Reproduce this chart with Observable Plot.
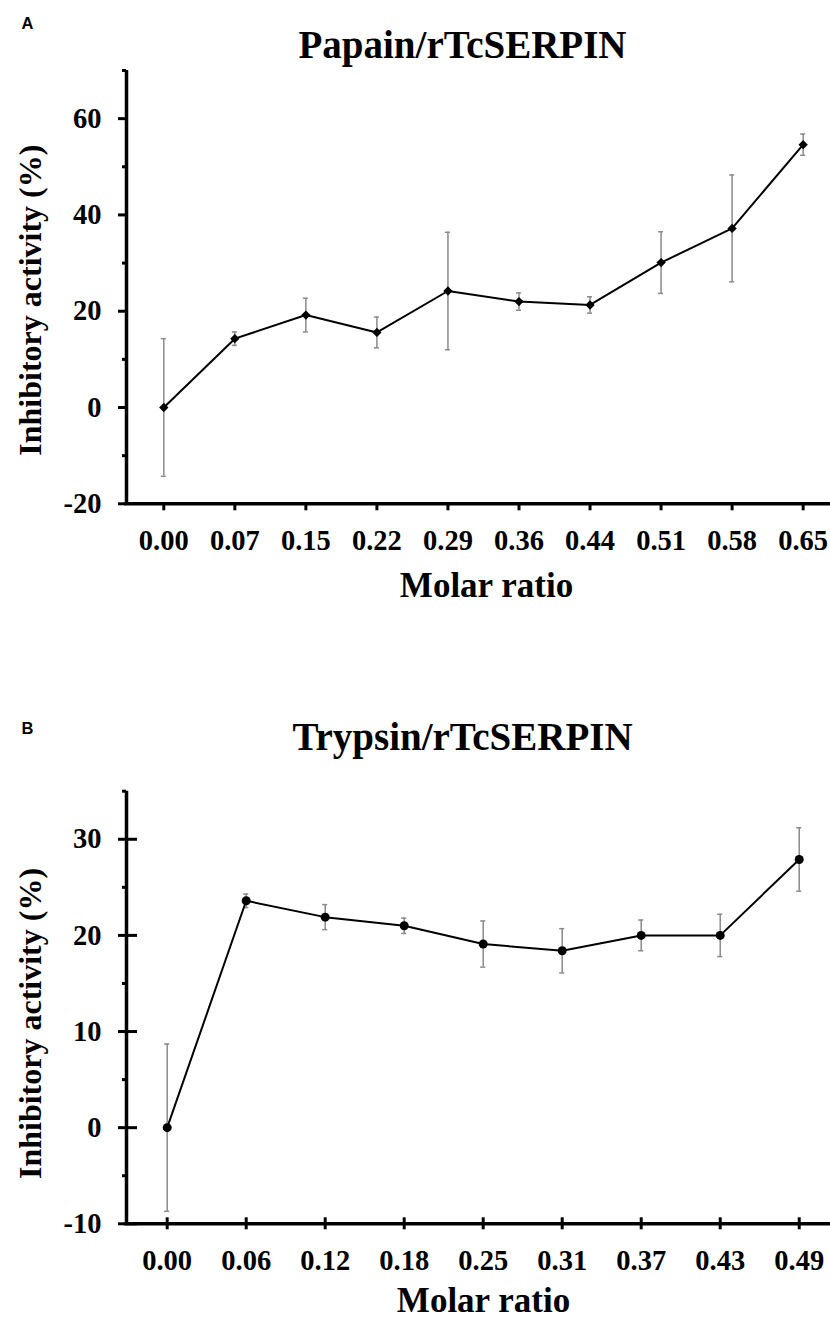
<!DOCTYPE html>
<html>
<head>
<meta charset="utf-8">
<script src="https://cdn.jsdelivr.net/npm/d3@7"></script>
<script src="https://cdn.jsdelivr.net/npm/@observablehq/plot@0.6"></script>
<style>
  body { margin: 0; background: #fff; }
  #chart svg { display: block; }
</style>
</head>
<body>
<div id="chart"></div>
<script>
// ---- Data ----
const papainRatios   = ["0.00","0.07","0.15","0.22","0.29","0.36","0.44","0.51","0.58","0.65"];
const papainActivity = [0, 14.3, 19.2, 15.6, 24.2, 22.0, 21.3, 30.1, 37.2, 54.6];
const papainError    = [14.3, 1.4, 3.5, 3.2, 12.2, 1.8, 1.7, 6.4, 11.1, 2.2];

const trypsinRatios   = ["0.00","0.06","0.12","0.18","0.25","0.31","0.37","0.43","0.49"];
const trypsinActivity = [0, 23.6, 21.9, 21.0, 19.1, 18.4, 20.0, 20.0, 27.9];
const trypsinError    = [8.7, 0.7, 1.3, 0.8, 2.4, 2.3, 1.6, 2.2, 3.3];

const papainYTicks  = [-20, 0, 20, 40, 60];
const papainYMinor  = [-10, 10, 30, 50, 70];
const trypsinYTicks = [-10, 0, 10, 20, 30];
const trypsinYMinor = [-5, 5, 15, 25, 35];

const titles  = ["Papain/rTcSERPIN", "Trypsin/rTcSERPIN"];
const letters = ["A", "B"];
const xLabel = "Molar ratio";
const yLabel = "Inhibitory activity (%)";

// ---- Drawing ----
const serif = "'Liberation Serif', 'Times New Roman', serif";
const sans = "'Liberation Sans', Arial, sans-serif";
const grey = "#8a8a8a";

function panel(o) {
  const data = o.labels.map((lab, i) => ({i, lab, v: o.values[i], e: o.errors[i]}));
  const idx = d3.range(o.labels.length);
  return Plot.plot({
    width: 830,
    height: o.height,
    marginLeft: 126,
    marginRight: 0,
    marginTop: o.mt,
    marginBottom: o.mb,
    style: {fontFamily: serif, fontWeight: "bold", background: "white", overflow: "visible", color: "black"},
    x: {domain: o.xDomain},
    y: {domain: o.yDomain},
    marks: [
      Plot.ruleX(data, {x: "i", y1: d => d.v - d.e, y2: d => d.v + d.e, stroke: grey, strokeWidth: 1.5}),
      Plot.ruleY(data, {y: d => d.v + d.e, x1: d => d.i - o.cap, x2: d => d.i + o.cap, stroke: grey, strokeWidth: 1.5}),
      Plot.ruleY(data, {y: d => d.v - d.e, x1: d => d.i - o.cap, x2: d => d.i + o.cap, stroke: grey, strokeWidth: 1.5}),
      Plot.line(data, {x: "i", y: "v", stroke: "black", strokeWidth: 2}),
      Plot.dot(data, {x: "i", y: "v", symbol: o.symbol, r: o.r, fill: "black"}),
      Plot.ruleX([o.xDomain[0]], {stroke: "black", strokeWidth: 3.5}),
      Plot.ruleY([o.yDomain[0]], {stroke: "black", strokeWidth: 3.5, strokeLinecap: "square"}),
      Plot.axisY({ticks: o.yTicks, tickSize: o.yTickSize, dx: o.yTickDx, tickPadding: o.yPad,
        tickFormat: d => String(d), fontSize: 28.5, fontWeight: "bold", strokeWidth: 3, label: null}),
      Plot.axisY({ticks: o.yMinor, tickSize: 4, tickFormat: () => "", strokeWidth: 3, label: null}),
      Plot.axisX({ticks: idx, tickFormat: i => o.labels[i], tickSize: o.xTickSize, dy: o.xTickDy,
        tickPadding: o.xPad, fontSize: 28.5, fontWeight: "bold", strokeWidth: 3, label: null}),
      Plot.text([o.title], {frameAnchor: "top", lineAnchor: "middle", dx: o.titleDx, dy: o.titleDy, fontSize: 39,
        fontWeight: "bold", fontFamily: serif, fill: "black"}),
      Plot.text([o.letter], {frameAnchor: "top-left", textAnchor: "start", lineAnchor: "middle", dx: -105, dy: o.letterDy,
        fontSize: 16.5, fontWeight: "bold", fontFamily: sans, fill: "black"}),
      Plot.text([xLabel], {frameAnchor: "bottom", lineAnchor: "middle", dx: o.xLabDx, dy: o.xLabDy, fontSize: 35,
        fontWeight: "bold", fontFamily: serif, fill: "black"}),
      Plot.text([yLabel], {frameAnchor: "left", textAnchor: "middle", lineAnchor: "middle", rotate: -90, dx: -96, dy: o.yLabDy, fontSize: 32,
        fontWeight: "bold", fontFamily: serif, fill: "black"})
    ]
  });
}

const chart = document.getElementById("chart");
chart.append(panel({
  labels: papainRatios, values: papainActivity, errors: papainError,
  height: 640, mt: 70, mb: 136.7,
  xDomain: [-0.525, 9.385], yDomain: [-20, 70],
  yTicks: papainYTicks, yMinor: papainYMinor,
  yTickSize: 8, yTickDx: 0, yPad: 17,
  xTickSize: 7, xTickDy: 0, xPad: 19,
  cap: 0.035, symbol: "diamond2", r: 4.2,
  title: titles[0], titleDx: -16, titleDy: -25,
  letter: letters[0], letterDy: -46.7,
  xLabDx: 8, xLabDy: 81.7, yLabDy: 13
}));
chart.append(panel({
  labels: trypsinRatios, values: trypsinActivity, errors: trypsinError,
  height: 679, mt: 150.7, mb: 95.7,
  xDomain: [-0.515, 8.396], yDomain: [-10, 35],
  yTicks: trypsinYTicks, yMinor: trypsinYMinor,
  yTickSize: 19, yTickDx: 11, yPad: 17,
  xTickSize: 12, xTickDy: -6, xPad: 20,
  cap: 0.032, symbol: "circle", r: 4.5,
  title: titles[1], titleDx: -16, titleDy: -54,
  letter: letters[1], letterDy: -62.7,
  xLabDx: 5, xLabDy: 76.7, yLabDy: 16
}));
</script>
</body>
</html>
